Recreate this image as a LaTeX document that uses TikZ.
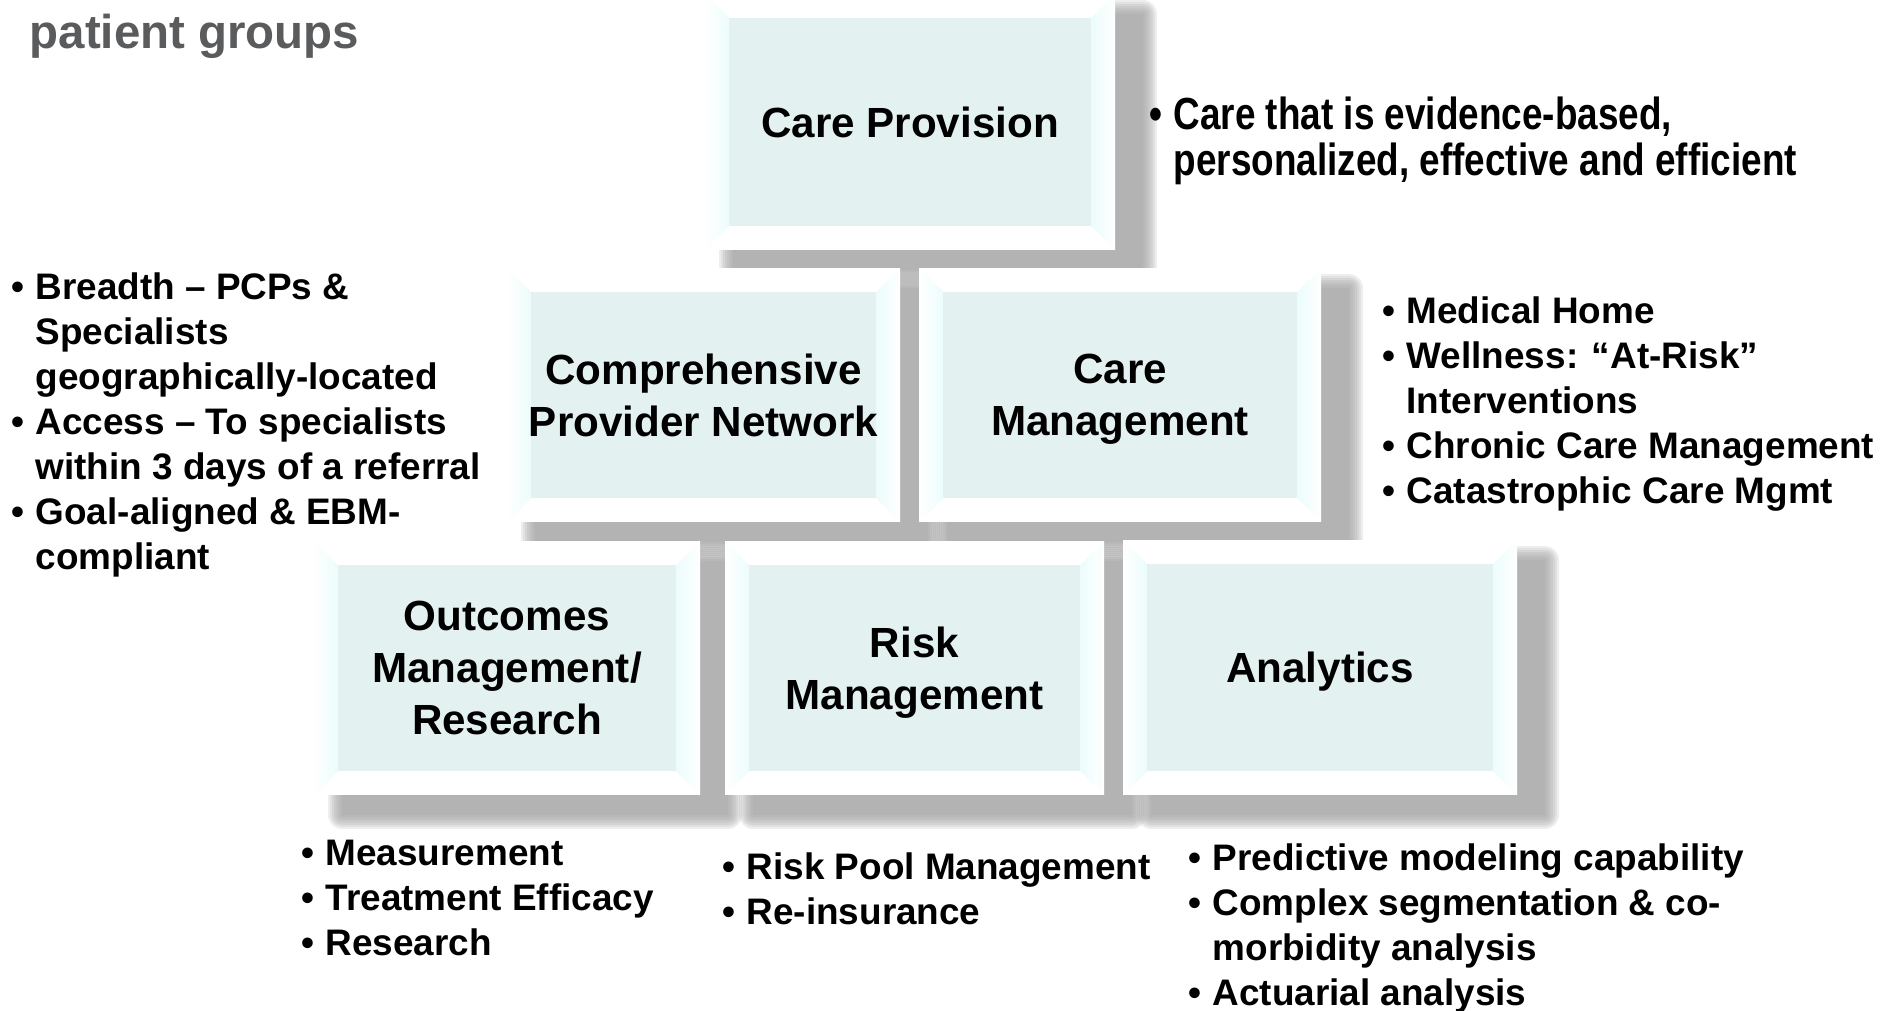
\documentclass[tikz,border=0pt]{standalone}
\usepackage{fontspec}
\setmainfont{Liberation Sans}
\newfontfamily\narrowfont[FakeStretch=0.82]{Liberation Sans}

\definecolor{facecyan}{RGB}{228,241,241}
\definecolor{sidecyan}{RGB}{236,252,252}
\definecolor{shadowgray}{RGB}{157,157,157}
\definecolor{titlegray}{RGB}{90,91,93}

% soft drop shadow behind a box with corners (#1,#2) and (#3,#4)
\newcommand{\boxshadow}[4]{%
  \foreach \k [evaluate=\k as \d using 0.02*\k] in {7,...,0}
    \fill[shadowgray, opacity=0.17, rounded corners=\d cm]
      (#1+0.28-\d,#2+0.20-\d) rectangle (#3+0.28+\d,#4+0.20+\d);}

% bevelled box: name, corners (#2,#3) (#4,#5), label
\newcommand{\pillar}[6]{%
  \fill[white] (#2,#3) rectangle (#4,#5);
  \shade[left color=white, right color=sidecyan] (#2,#3) -- (#2+0.24,#3+0.24) -- (#2+0.24,#5-0.24) -- (#2,#5) -- cycle;
  \shade[left color=sidecyan, right color=white] (#4,#3) -- (#4-0.24,#3+0.24) -- (#4-0.24,#5-0.24) -- (#4,#5) -- cycle;
  \fill[facecyan] (#2+0.24,#3+0.24) rectangle (#4-0.24,#5-0.24);
  \node[pillarlabel] (#1) at ({(#2+#4)/2},{(#3+#5)/2}) {#6};}

\newcommand{\bitem}{\llap{•\hspace{0.11cm}}}

\begin{document}
\begin{tikzpicture}[x=1cm,y=-1cm,
    pillarlabel/.style={font=\bfseries\fontsize{12}{14.8}\selectfont, align=center, inner sep=0pt, text depth=0pt},
    bullettext/.style={font=\bfseries\fontsize{10.5}{12.8}\selectfont, align=left, inner sep=0pt, anchor=base west},
    titletext/.style={font=\bfseries\fontsize{13.5}{16}\selectfont, text=titlegray, inner sep=0pt, anchor=base west}]
    \useasboundingbox (0,0) rectangle (18.8,10.1);

    %shadows
    \boxshadow{7.05}{-0.06}{11.15}{2.50}
    \boxshadow{5.07}{2.68}{9.00}{5.22}
    \boxshadow{9.19}{2.68}{13.21}{5.22}
    \boxshadow{3.14}{5.41}{7.00}{7.95}
    \boxshadow{7.25}{5.41}{11.04}{7.95}
    \boxshadow{11.23}{5.40}{15.17}{7.95}

    %boxes
    \pillar{prov}{7.05}{-0.06}{11.15}{2.50}{Care Provision}
    \pillar{netw}{5.07}{2.68}{9.00}{5.22}{Comprehensive\\Provider Network}
    \pillar{cmgt}{9.19}{2.68}{13.21}{5.22}{Care\\Management}
    \pillar{outc}{3.14}{5.41}{7.00}{7.95}{Outcomes\\Management/\\Research}
    \pillar{risk}{7.25}{5.41}{11.04}{7.95}{Risk\\Management}
    \pillar{anly}{11.23}{5.40}{15.17}{7.95}{Analytics}

    %texts (placed by the baseline of their last line)
    \node[titletext] (title) at (0.29,0.48) {patient groups};
    \node[bullettext, font=\narrowfont\bfseries\fontsize{12.8}{13}\selectfont] (provtxt) at (11.73,1.75)
        {\bitem Care that is evidence-based,\\personalized, effective and efficient};
    \node[bullettext] (netwtxt) at (0.35,5.69)
        {\bitem Breadth – PCPs \&\\Specialists\\geographically-located\\
         \bitem Access – To specialists\\within 3 days of a referral\\
         \bitem Goal-aligned \& EBM-\\compliant};
    \node[bullettext] (cmgttxt) at (14.06,5.03)
        {\bitem Medical Home\\\bitem Wellness: “At-Risk”\\Interventions\\
         \bitem Chronic Care Management\\\bitem Catastrophic Care Mgmt};
    \node[bullettext] (outctxt) at (3.25,9.55)
        {\bitem Measurement\\\bitem Treatment Efficacy\\\bitem Research};
    \node[bullettext] (risktxt) at (7.46,9.24)
        {\bitem Risk Pool Management\\\bitem Re-insurance};
    \node[bullettext] (anlytxt) at (12.12,10.05)
        {\bitem Predictive modeling capability\\\bitem Complex segmentation \& co-\\morbidity analysis\\
         \bitem Actuarial analysis};
\end{tikzpicture}
\end{document}
